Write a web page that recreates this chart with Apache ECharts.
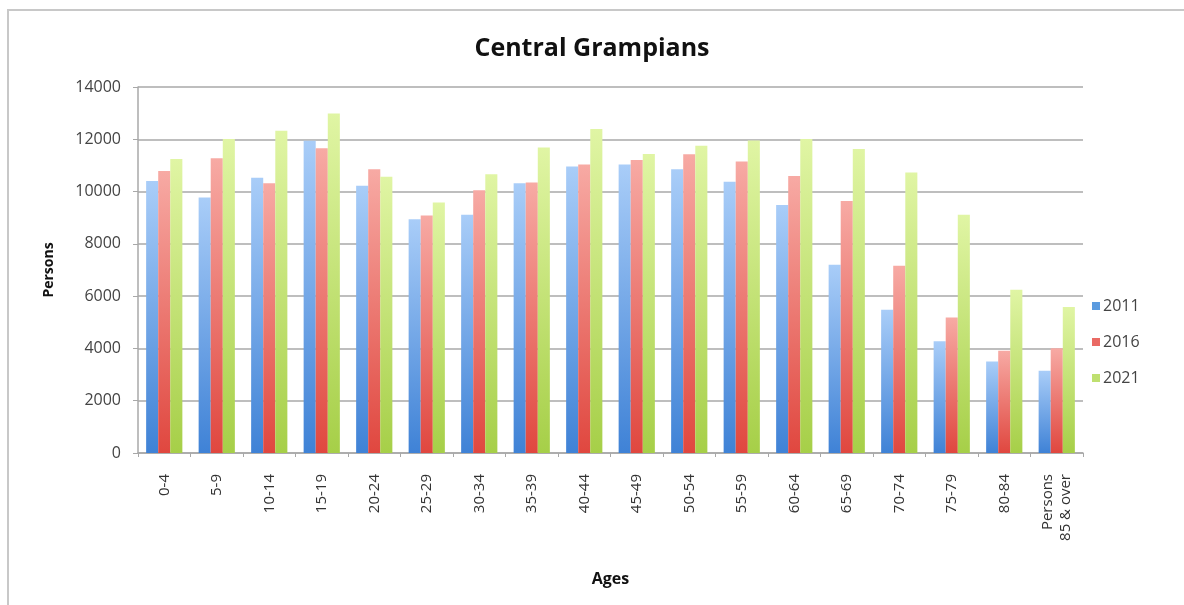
<!DOCTYPE html>
<html>
<head>
<meta charset="utf-8">
<script src="https://cdn.jsdelivr.net/npm/echarts@6/dist/echarts.min.js"></script>
<style>
  html, body { margin: 0; padding: 0; background: #fff; }
  #chart { width: 1184px; height: 605px; }
</style>
</head>
<body>
<div id="chart"></div>
<script>
// Age bands (x-axis categories)
const ageBands = ['0-4', '5-9', '10-14', '15-19', '20-24', '25-29', '30-34', '35-39', '40-44',
  '45-49', '50-54', '55-59', '60-64', '65-69', '70-74', '75-79', '80-84', 'Persons\n85 & over'];

// Population per age band
const persons2011 = [10400, 9770, 10530, 11940, 10220, 8940, 9110, 10320, 10960,
  11040, 10850, 10380, 9490, 7200, 5480, 4270, 3500, 3150];
const persons2016 = [10790, 11270, 10320, 11660, 10850, 9080, 10050, 10350, 11040,
  11210, 11430, 11150, 10600, 9640, 7160, 5180, 3910, 4010];
const persons2021 = [11250, 12010, 12330, 12990, 10570, 9580, 10660, 11690, 12390,
  11440, 11750, 11950, 12010, 11630, 10730, 9110, 6240, 5580];

const seriesNames = ['2011', '2016', '2021'];
const yTicks = { min: 0, max: 14000, interval: 2000 };

const FONT = '"Open Sans", "Liberation Sans", sans-serif';

function grad(top, bottom) {
  return new echarts.graphic.LinearGradient(0, 0, 0, 1, [
    { offset: 0, color: top },
    { offset: 1, color: bottom }
  ]);
}

const palette = [
  { top: '#a9cdf8', bottom: '#3f82d6', legend: '#5b9bdf' },
  { top: '#f7aaa4', bottom: '#e0473f', legend: '#ea6a64' },
  { top: '#e0f5a4', bottom: '#a6cf48', legend: '#bfe070' }
];

const chart = echarts.init(document.getElementById('chart'), null, { renderer: 'canvas' });

const dataSets = [persons2011, persons2016, persons2021];

chart.setOption({
  animation: false,
  backgroundColor: '#fff',
  title: {
    text: 'Central Grampians',
    left: 'center',
    top: 31,
    textStyle: { fontFamily: FONT, fontWeight: 'bold', fontSize: 25, color: '#111' }
  },
  graphic: [{
    type: 'rect',
    shape: { x: 8, y: 10, width: 1200, height: 620 },
    style: { fill: 'none', stroke: '#c8c8c8', lineWidth: 2 },
    silent: true
  }],
  legend: {
    orient: 'vertical',
    left: 1087,
    top: 293,
    itemWidth: 8,
    itemHeight: 8,
    itemGap: 20,
    icon: 'rect',
    data: seriesNames.map((n, i) => ({ name: n, itemStyle: { color: palette[i].legend } })),
    textStyle: { fontFamily: FONT, fontSize: 16, color: '#444', padding: [0, 0, 0, -2] }
  },
  grid: { left: 138, right: 101, top: 87, bottom: 152, containLabel: false },
  xAxis: {
    type: 'category',
    data: ageBands,
    name: 'Ages',
    nameLocation: 'middle',
    nameGap: 118,
    nameTextStyle: { fontFamily: FONT, fontWeight: 'bold', fontSize: 16, color: '#111' },
    axisLine: { lineStyle: { color: '#a8a8a8', width: 1.5 } },
    axisTick: { show: true, length: 4, lineStyle: { color: '#a8a8a8' } },
    axisLabel: {
      rotate: 90,
      margin: 21,
      interval: 0,
      fontFamily: FONT,
      fontSize: 15,
      color: '#333',
      lineHeight: 18
    }
  },
  yAxis: {
    type: 'value',
    min: yTicks.min,
    max: yTicks.max,
    interval: yTicks.interval,
    name: 'Persons',
    nameLocation: 'middle',
    nameGap: 82,
    nameRotate: 90,
    nameTextStyle: { fontFamily: FONT, fontWeight: 'bold', fontSize: 14, color: '#111' },
    axisLine: { show: true, lineStyle: { color: '#a8a8a8', width: 1.5 } },
    axisTick: { show: true, length: 5, lineStyle: { color: '#a8a8a8' } },
    axisLabel: {
      margin: 17,
      fontFamily: FONT,
      fontSize: 16,
      color: '#444',
      formatter: (v) => String(v)
    },
    splitLine: { show: true, lineStyle: { color: '#a8a8a8', width: 1.5 } }
  },
  series: dataSets.map((d, i) => ({
    name: seriesNames[i],
    type: 'bar',
    data: d,
    barGap: '0%',
    barCategoryGap: '31%',
    itemStyle: { color: grad(palette[i].top, palette[i].bottom) }
  }))
});
</script>
</body>
</html>
